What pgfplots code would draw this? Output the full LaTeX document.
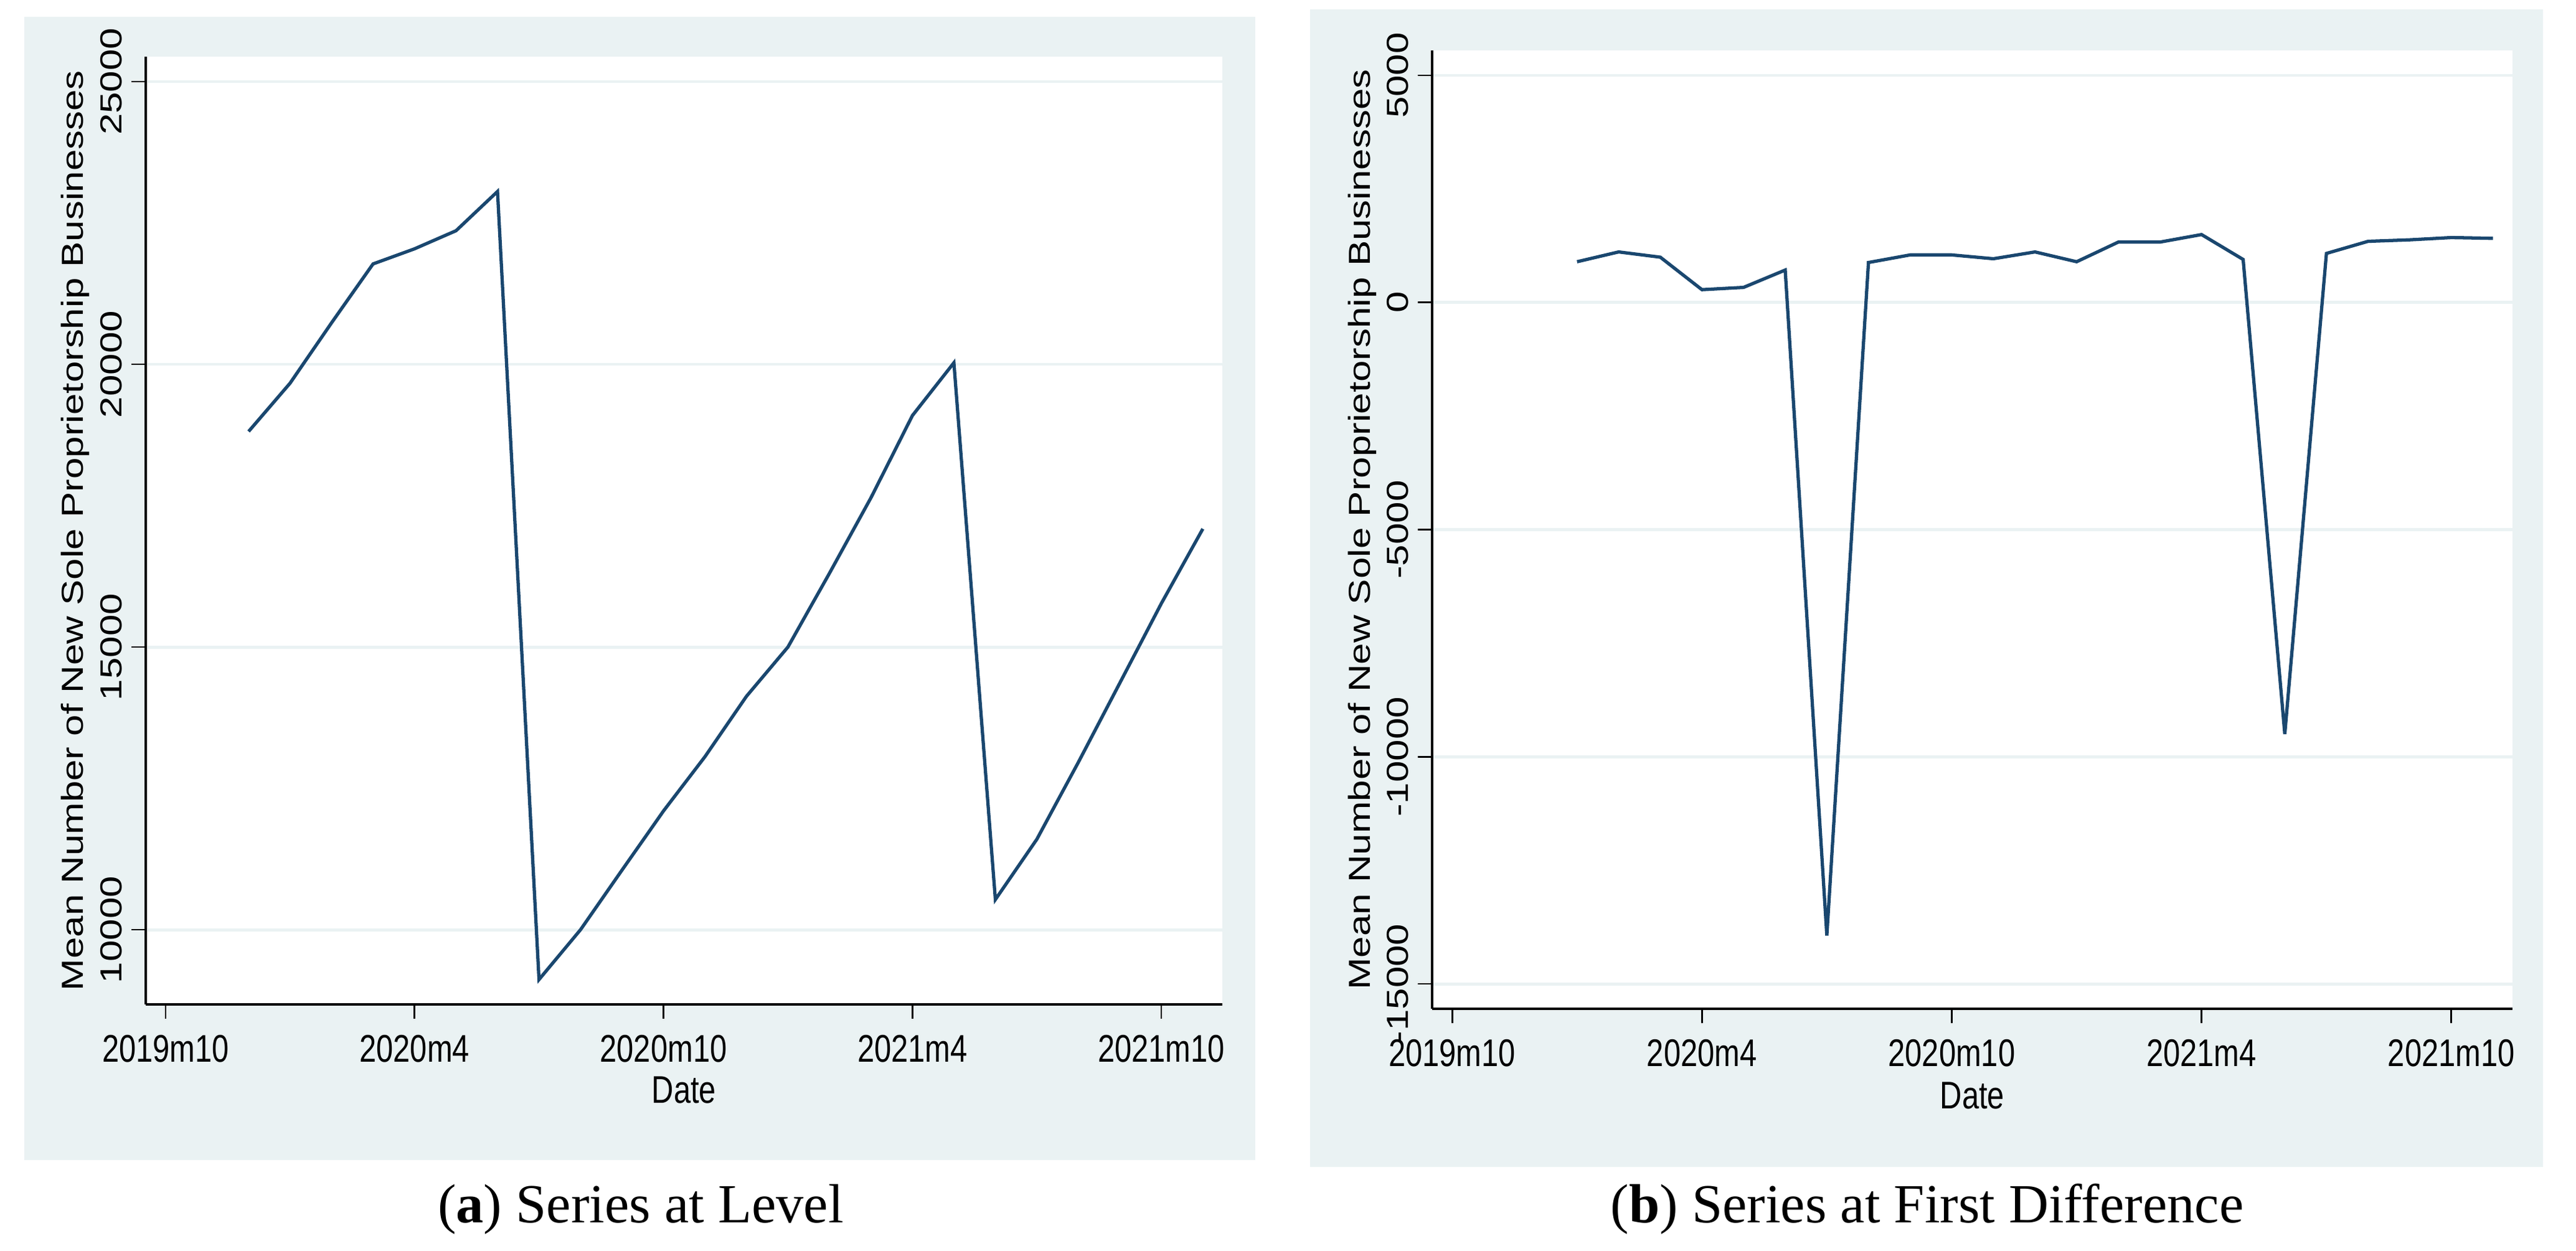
\documentclass[border=0pt]{standalone}
\usepackage{fontspec}
\setmainfont{Liberation Sans}
\newfontfamily\capfont{Liberation Serif}
\usepackage{graphicx}
\usepackage{pgfplots}
\pgfplotsset{compat=1.18}
\definecolor{bgc}{RGB}{234,242,243}
\definecolor{statanavy}{RGB}{26,71,111}

\newcommand{\hx}[1]{\scalebox{0.79}[1]{#1}}
\newcommand{\vy}[1]{\scalebox{1}[0.79]{#1}}

\pgfplotsset{
  statastyle/.style={
    scale only axis,
    anchor=south west,
    axis x line*=bottom,
    axis y line*=left,
    axis line style={line width=1.2pt, black},
    axis background/.style={fill=white},
    tick align=outside,
    major tick length=0.23cm,
    every tick/.style={line width=0.8pt, black},
    ymajorgrids,
    major grid style={bgc, line width=1.4pt},
    font=\fontsize{17.6}{20}\selectfont,
    scaled y ticks=false,
    xmin=-0.48, xmax=25.47,
    xtick={0,6,12,18,24},
    xticklabels={\hx{2019m10},\hx{2020m4},\hx{2020m10},\hx{2021m4},\hx{2021m10}},
    xticklabel style={anchor=north, inner sep=0pt},
    xticklabel shift=0.26cm,
    yticklabel style={rotate=90, anchor=south, inner sep=0pt},
    yticklabel shift=0.14cm,
    every axis x label/.style={at={(axis description cs:0.5,-0.076)}, anchor=north, inner sep=0pt},
    every axis y label/.style={rotate=90, anchor=south, inner sep=0pt},
    xlabel={\hx{Date}},
    ylabel={\vy{Mean Number of New Sole Proprietorship Businesses}},
    clip=true,
  },
}

\begin{document}
\begin{tikzpicture}
\path (0,0) rectangle (41.37,-20.08);
\fill[bgc] (0.39,-0.27) rectangle (20.16,-18.63);
\fill[bgc] (21.04,-0.15) rectangle (40.84,-18.74);

% (a) level
\begin{axis}[statastyle,
  at={(2.34cm,-16.13cm)},
  width=17.29cm, height=15.22cm,
  ymin=8679, ymax=25440,
  ytick={10000,15000,20000,25000},
  yticklabels={\vy{10000},\vy{15000},\vy{20000},\vy{25000}},
  ylabel style={at={(axis description cs:-0.052,0.5)}},
]
\addplot[statanavy, line width=1.5pt, no markers] coordinates {
  (2,18812) (3,19666) (4,20734) (5,21775) (6,22042) (7,22362) (8,23056)
  (9,9119) (10,10000) (11,11054) (12,12100) (13,13061) (14,14128)
  (15,15000) (16,16304) (17,17638) (18,19093) (19,20027) (20,10534)
  (21,11601) (22,12962) (23,14364) (24,15770) (25,17090)
};
\end{axis}

% (b) first difference
\begin{axis}[statastyle,
  at={(23.00cm,-16.20cm)},
  width=17.35cm, height=15.39cm,
  ymin=-15548, ymax=5548,
  ytick={-15000,-10000,-5000,0,5000},
  yticklabels={\vy{-15000},\vy{-10000},\vy{-5000},\vy{0},\vy{5000}},
  ylabel style={at={(axis description cs:-0.0513,0.5)}},
]
\addplot[statanavy, line width=1.5pt, no markers] coordinates {
  (3,897) (4,1113) (5,997) (6,282) (7,332) (8,714) (9,-13937)
  (10,880) (11,1047) (12,1047) (13,963) (14,1113) (15,897) (16,1329)
  (17,1329) (18,1495) (19,947) (20,-9502) (21,1080) (22,1346)
  (23,1379) (24,1429) (25,1412)
};
\end{axis}

\node[anchor=base, inner sep=0pt, font=\capfont\fontsize{25.2}{30}\selectfont] at (10.29,-19.63) {(\textbf{a}) Series at Level};
\node[anchor=base, inner sep=0pt, font=\capfont\fontsize{25.2}{30}\selectfont] at (30.95,-19.63) {(\textbf{b}) Series at First Difference};
\end{tikzpicture}
\end{document}
